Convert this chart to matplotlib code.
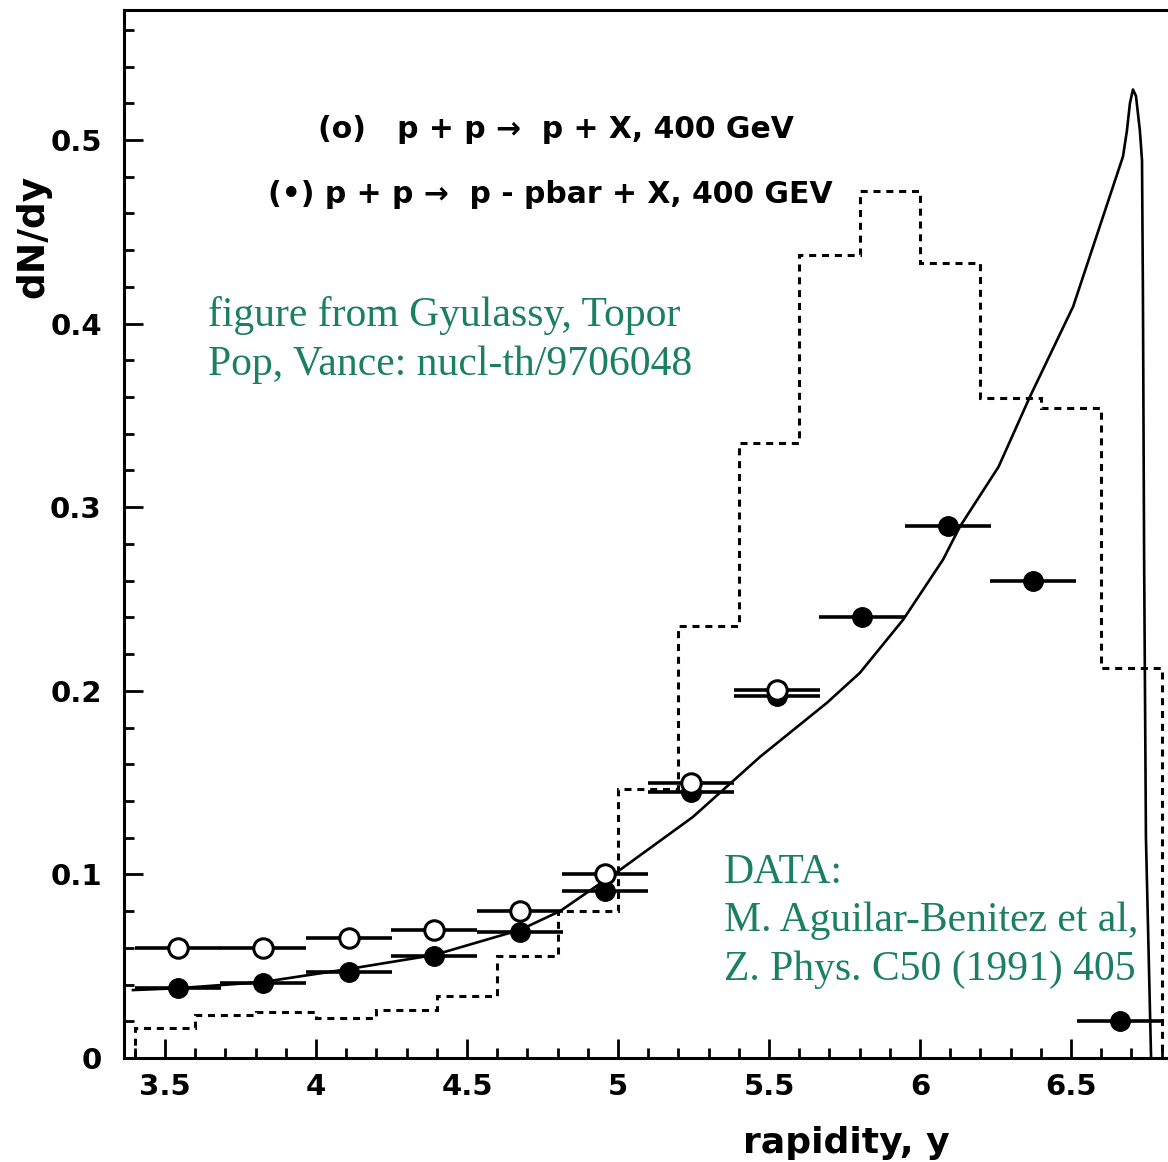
import numpy as np
import matplotlib.pyplot as plt

# dotted histogram (model), bin edges and heights
hist_edges = [3.4, 3.6, 3.8, 4.0, 4.2, 4.4, 4.6, 4.8, 5.0, 5.2, 5.4, 5.6, 5.8, 6.0, 6.2, 6.4, 6.6, 6.8]
hist_vals = [0.0163, 0.0234, 0.0251, 0.0218, 0.026, 0.0338, 0.0556, 0.080, 0.1466,
             0.2354, 0.335, 0.4376, 0.472, 0.433, 0.3597, 0.354, 0.2125]

# data: (o) p + p -> p + X
open_x = [3.543, 3.824, 4.109, 4.39, 4.675, 4.957, 5.242, 5.527]
open_y = [0.060, 0.060, 0.0654, 0.0698, 0.080, 0.100, 0.150, 0.2005]

# data: (*) p + p -> p - pbar + X
filled_x = [3.543, 3.824, 4.109, 4.39, 4.675, 4.957, 5.242, 5.527, 5.808, 6.093, 6.374, 6.662]
filled_y = [0.038, 0.041, 0.047, 0.0556, 0.0687, 0.091, 0.145, 0.197, 0.240, 0.290, 0.260, 0.020]
x_halfwidth = 0.142

# solid curve (model)
curve_x = [3.394, 3.543, 3.824, 4.109, 4.391, 4.676, 4.808, 5.007, 5.248, 5.47,
           5.692, 5.801, 5.944, 6.076, 6.132, 6.26, 6.364, 6.507, 6.672, 6.685, 6.695,
           6.705, 6.715, 6.728, 6.735, 6.738, 6.742, 6.748, 6.765]
curve_y = [0.037, 0.038, 0.0414, 0.0485, 0.0561, 0.0698, 0.080, 0.1025, 0.1313, 0.164,
           0.1935, 0.2098, 0.2387, 0.2714, 0.2894, 0.322, 0.3602, 0.4093, 0.491, 0.505, 0.52,
           0.5275, 0.524, 0.505, 0.489, 0.417, 0.2714, 0.12, 0.0]

x_ticks = [3.5, 4, 4.5, 5, 5.5, 6, 6.5]
x_ticklabels = ["3.5", "4", "4.5", "5", "5.5", "6", "6.5"]
y_ticks = [0, 0.1, 0.2, 0.3, 0.4, 0.5]
y_ticklabels = ["0", "0.1", "0.2", "0.3", "0.4", "0.5"]

green = "#1b7f64"
sans = "DejaVu Sans"
serif = "Liberation Serif"

fig = plt.figure(figsize=(11.68, 11.62), dpi=100)
W, H = 1168, 1162
ax = fig.add_axes([124 / W, (H - 1058) / H, (1170.7 - 124) / W, (1058 - 10) / H])
ax.set_xlim(3.3642, 6.83)
ax.set_ylim(0, 0.5708)

ax.stairs(hist_vals, hist_edges, baseline=0, color="black", lw=2.2,
          linestyle=(0, (2.3, 1.9)))
ax.plot(curve_x, curve_y, color="black", lw=1.9)

ax.errorbar(filled_x, filled_y, xerr=x_halfwidth, fmt="o", color="black",
            ms=14, elinewidth=2.6, capsize=0, zorder=3)
ax.errorbar(open_x, open_y, xerr=x_halfwidth, fmt="o", color="black",
            mfc="white", mec="black", mew=2.2, ms=14, elinewidth=2.6, capsize=0, zorder=4)

for s in ax.spines.values():
    s.set_linewidth(2.2)

ax.set_xticks(x_ticks)
ax.set_xticklabels(x_ticklabels)
ax.set_xticks(np.arange(3.4, 6.85, 0.1), minor=True)
ax.set_yticks(y_ticks)
ax.set_yticklabels(y_ticklabels)
ax.set_yticks(np.arange(0, 0.57, 0.02), minor=True)
ax.tick_params(which="both", direction="in", top=False, right=False, width=2)
ax.tick_params(which="major", length=14)
ax.tick_params(which="minor", length=7)
ax.tick_params(axis="y", pad=16)
ax.tick_params(axis="x", pad=11)
for lab in ax.get_xticklabels() + ax.get_yticklabels():
    lab.set_fontfamily(sans)
    lab.set_fontweight("bold")
    lab.set_fontsize(21)

fig.text(33 / W, 1 - 175 / H, "dN/dy", rotation=90, ha="center", va="top",
         family=sans, weight="bold", fontsize=27)
fig.text(950 / W, 1 - 1153 / H, "rapidity, y", ha="right", va="baseline",
         family=sans, weight="bold", fontsize=26)

fig.text(318 / W, 1 - 138 / H, "(o)   p + p \u2192  p + X, 400 GeV", ha="left", va="baseline",
         family=sans, weight="bold", fontsize=21.5)
fig.text(268 / W, 1 - 203 / H, "(\u2022) p + p \u2192  p - pbar + X, 400 GEV", ha="left", va="baseline",
         family=sans, weight="bold", fontsize=21.5)

credit_lines = ["figure from Gyulassy, Topor", "Pop, Vance: nucl-th/9706048"]
for i, line in enumerate(credit_lines):
    fig.text(208 / W, 1 - (326 + 49 * i) / H, line, ha="left", va="baseline",
             family=serif, color=green, fontsize=30)
data_lines = ["DATA:", "M. Aguilar-Benitez et al,", "Z. Phys. C50 (1991) 405"]
for i, line in enumerate(data_lines):
    fig.text(724 / W, 1 - (883 + 48.5 * i) / H, line, ha="left", va="baseline",
             family=serif, color=green, fontsize=30)

fig.savefig("out.png", dpi=100)
